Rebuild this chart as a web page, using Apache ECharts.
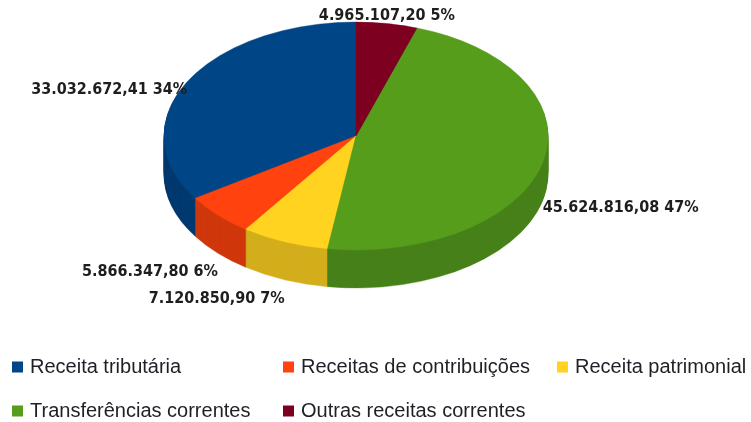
<!DOCTYPE html>
<html>
<head>
<meta charset="utf-8">
<script src="https://cdn.jsdelivr.net/npm/echarts@6/dist/echarts.min.js"></script>
<style>
  html, body { margin: 0; padding: 0; background: #fff; }
  #chart { width: 751px; height: 422px; }
</style>
</head>
<body>
<div id="chart"></div>
<script>
// dados da receita
const categories = ['Receita tributária', 'Receitas de contribuições', 'Receita patrimonial', 'Transferências correntes', 'Outras receitas correntes']
const values = [33032672.41, 5866347.80, 7120850.90, 45624816.08, 4965107.20]
const topColors = ['#004586', '#ff420e', '#ffd320', '#579d1c', '#7e0021']
const sideColors = ['#00396f', '#cf380c', '#d3ae1d', '#478019', '#66001b']

// geometria do "3D"
const cx = 356
const cy = 136
const rx = 192
const ry = 114
const depth = 38

const total = values.reduce((a, b) => a + b, 0)
// angulos (sentido anti-horario a partir do topo)
const starts = []
let acc = 0
values.forEach(v => {
  starts.push(acc)
  acc += v / total * Math.PI * 2
})

function fmt (v) {
  const parts = v.toFixed(2).split('.')
  return parts[0].replace(/\B(?=(\d{3})+(?!\d))/g, '.') + ',' + parts[1]
}

function sector (i, offY, color) {
  const a0 = -Math.PI / 2 - starts[i]
  const a1 = a0 - values[i] / total * Math.PI * 2
  return {
    type: 'sector',
    x: cx,
    y: cy + offY,
    scaleY: ry / rx,
    shape: { cx: 0, cy: 0, r: rx, r0: 0, startAngle: a0, endAngle: a1, clockwise: false },
    style: { fill: color, stroke: color, lineWidth: 0.5 }
  }
}

function label (i) {
  const mid = Math.PI / 2 + starts[i] + values[i] / total * Math.PI
  const c = Math.cos(mid)
  const s = Math.sin(mid)
  const x = cx + rx * c
  let y, va
  if (s < 0) {
    y = cy - ry * s + depth * Math.min(1, 3 * Math.abs(s)) + 11
    va = 'top'
  } else {
    y = cy - ry * s + 31 * (1 - s)
    va = 'bottom'
  }
  const align = c > 0.3 ? 'left' : (c < -0.3 ? 'right' : 'center')
  return {
    type: 'text',
    x: x,
    y: y,
    style: {
      text: fmt(values[i]) + ' ' + Math.round(values[i] / total * 100) + '%',
      fill: '#1e1e1e',
      font: 'bold 16px "Liberation Sans Narrow", "DejaVu Sans Condensed", sans-serif',
      align: align,
      verticalAlign: va
    }
  }
}

const series = []
// lateral
series.push({
  type: 'custom',
  coordinateSystem: 'none',
  silent: true,
  data: values.map((v, i) => [i, v]),
  renderItem (params, api) {
    const i = api.value(0)
    const children = []
    for (let d = depth; d > 0; d--) {
      children.push(sector(i, d, sideColors[i]))
    }
    return { type: 'group', children }
  }
})
// topo (uma serie por categoria, para a legenda)
categories.forEach((name, i) => {
  series.push({
    name,
    type: 'custom',
    coordinateSystem: 'none',
    silent: true,
    itemStyle: { color: topColors[i] },
    data: [[i, values[i]]],
    renderItem () {
      return { type: 'group', children: [sector(i, 0, topColors[i]), label(i)] }
    }
  })
})

const legendBase = {
  orient: 'vertical',
  top: 357,
  height: 65,
  padding: 0,
  itemWidth: 11,
  itemHeight: 11,
  itemGap: 24,
  icon: 'rect',
  selectedMode: false,
  textStyle: { fontFamily: 'Liberation Sans', fontSize: 20, color: '#1f1f26', lineHeight: 20, padding: [0, 0, 0, 2] }
}

const option = {
  animation: false,
  backgroundColor: '#fff',
  legend: [
    Object.assign({}, legendBase, { left: 12, data: ['Receita tributária', 'Transferências correntes'] }),
    Object.assign({}, legendBase, { left: 283, data: ['Receitas de contribuições', 'Outras receitas correntes'] }),
    Object.assign({}, legendBase, { left: 557, data: ['Receita patrimonial'] })
  ],
  series
}

const chart = echarts.init(document.getElementById('chart'))
chart.setOption(option)
</script>
</body>
</html>
